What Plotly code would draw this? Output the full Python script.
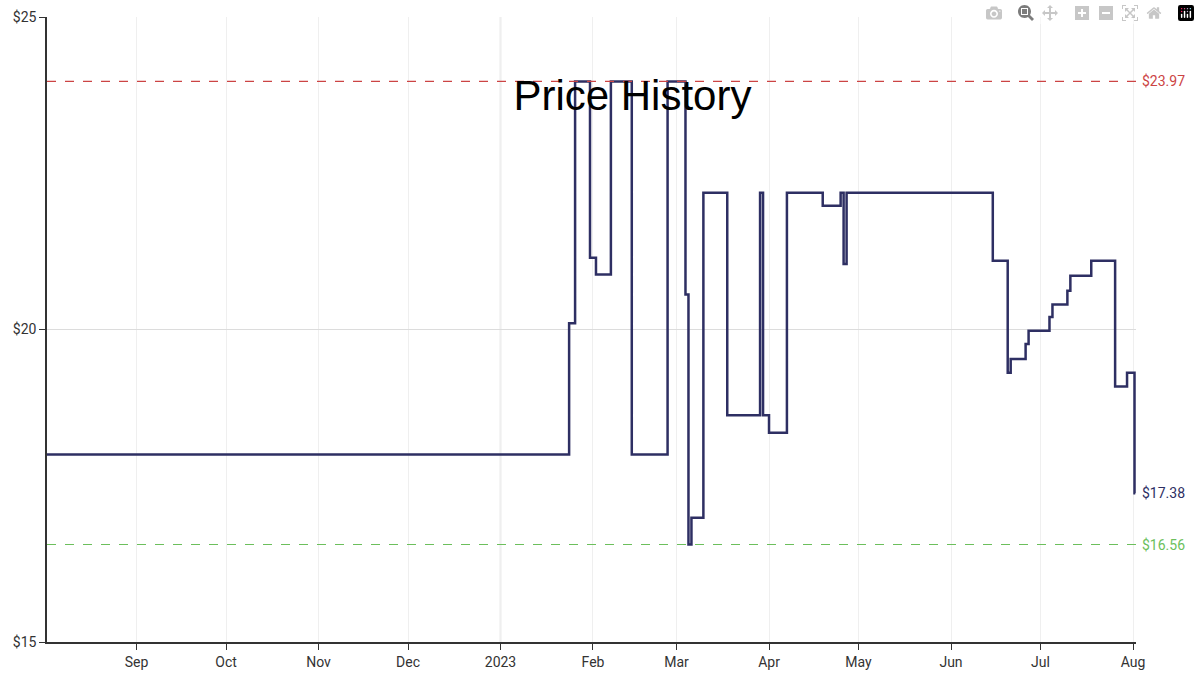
import plotly.graph_objects as go

dates = ["2022-08-02", "2023-01-24", "2023-01-26", "2023-01-31", "2023-02-02", "2023-02-07",
         "2023-02-14", "2023-02-26", "2023-03-04", "2023-03-05", "2023-03-06", "2023-03-10",
         "2023-03-18", "2023-03-29", "2023-03-30", "2023-04-01", "2023-04-07", "2023-04-19",
         "2023-04-25", "2023-04-26", "2023-04-27", "2023-06-15", "2023-06-20", "2023-06-21",
         "2023-06-26", "2023-06-27", "2023-07-04", "2023-07-05", "2023-07-10", "2023-07-11",
         "2023-07-18", "2023-07-26", "2023-07-30", "2023-08-01T12:00", "2023-08-01T18:00"]
prices = [18.00, 20.10, 23.97, 21.15, 20.88, 23.97,
          18.00, 23.97, 20.56, 16.56, 16.99, 22.19,
          18.63, 22.19, 18.63, 18.35, 22.19, 21.98,
          22.19, 21.05, 22.19, 21.10, 19.31, 19.53,
          19.77, 19.98, 20.20, 20.40, 20.62, 20.86,
          21.10, 19.09, 19.31, 17.38, 17.38]
high_price = 23.97
low_price = 16.56
current_price = 17.38
y_ticks = [15, 20, 25]
y_tick_labels = ["$15", "$20", "$25"]
x_ticks = ["2022-09-01", "2022-10-01", "2022-11-01", "2022-12-01", "2023-01-01", "2023-02-01",
           "2023-03-01", "2023-04-01", "2023-05-01", "2023-06-01", "2023-07-01", "2023-08-01"]
x_tick_labels = ["Sep", "Oct", "Nov", "Dec", "2023", "Feb", "Mar", "Apr", "May", "Jun", "Jul", "Aug"]
x_start, x_end = "2022-08-02", "2023-08-02"

line_color = "#2e2f63"
red = "#cc4444"
green = "#6cbf5c"

fig = go.Figure()
fig.add_vline(x="2023-01-01", line=dict(color="#d8d8d8", width=1.5), layer="below")
fig.add_trace(go.Scatter(x=dates, y=prices, mode="lines", line_shape="hv",
                         line=dict(color=line_color, width=2.5), showlegend=False,
                         hoverinfo="skip"))
fig.add_hline(y=high_price, line=dict(color=red, width=1.2, dash="dash"))
fig.add_hline(y=low_price, line=dict(color=green, width=1.2, dash="dash"))

for val, col in [(high_price, red), (low_price, green), (current_price, line_color)]:
    fig.add_annotation(x=1, xref="paper", y=val, yref="y", text=f"${val:.2f}",
                       showarrow=False, xanchor="left", xshift=4,
                       font=dict(family="Roboto", size=14, color=col))

fig.update_layout(
    width=1200, height=681,
    margin=dict(l=47, r=64, t=9, b=39),
    paper_bgcolor="white", plot_bgcolor="white",
    title=dict(text="Price History", x=0.527, xanchor="center", y=0.86, yanchor="middle",
               font=dict(family="Liberation Sans, Arial", size=42, color="black")),
    font=dict(family="Roboto", size=14, color="#333"),
)
fig.update_xaxes(range=[x_start, x_end], tickvals=x_ticks, ticktext=x_tick_labels,
                 showgrid=True, gridcolor="#efefef", showline=True, linecolor="#333",
                 linewidth=1.5, ticks="outside", ticklen=6, tickcolor="#333",
                 zeroline=False)
fig.update_yaxes(range=[15, 25], tickvals=y_ticks, ticktext=y_tick_labels,
                 showgrid=True, gridcolor="#dcdcdc", showline=True, linecolor="#333",
                 linewidth=1.5, ticks="outside", ticklen=6, tickcolor="#333",
                 zeroline=False)
fig.write_html("out.html",
               post_script="document.body.style.margin='0';document.body.style.overflow='hidden';")
